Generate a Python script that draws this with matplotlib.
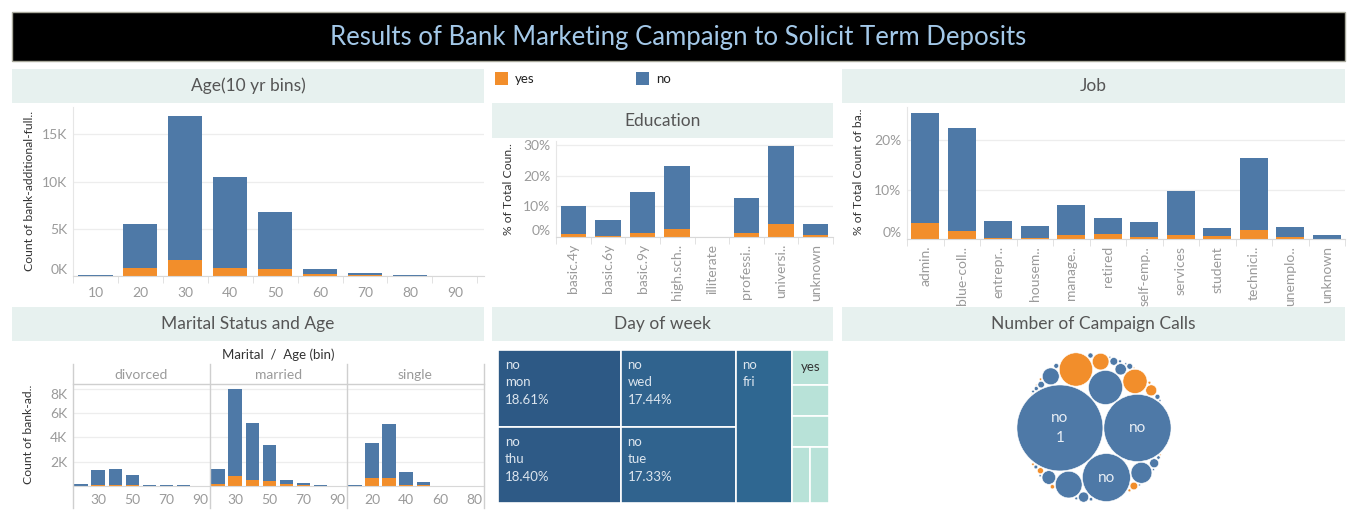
import numpy as np
import matplotlib.pyplot as plt
from matplotlib.patches import Rectangle, Circle
from matplotlib.lines import Line2D

plt.rcParams['font.family'] = ['Lato', 'DejaVu Sans']

W, H = 1357, 520
BLUE = '#4E79A7'
ORANGE = '#F28E2B'
HDR = '#E7F1EF'
TICK = '#9A9A9A'
GRID = '#EDEDED'

# ---------------- data ----------------
age_bins = [10, 20, 30, 40, 50, 60, 70, 80, 90]
age_yes = [10, 850, 1650, 850, 740, 180, 100, 20, 0]
age_no = [130, 4710, 15320, 9680, 6090, 560, 180, 50, 5]

edu_labels = ['basic.4y', 'basic.6y', 'basic.9y', 'high.sch..', 'illiterate',
              'professi..', 'universi..', 'unknown']
edu_yes = [0.9, 0.2, 1.3, 2.6, 0.01, 1.3, 4.1, 0.5]
edu_no = [9.1, 5.2, 13.3, 20.4, 0.03, 11.3, 25.5, 3.6]

job_labels = ['admin.', 'blue-coll..', 'entrepr..', 'housem..', 'manage..', 'retired',
              'self-emp..', 'services', 'student', 'technici..', 'unemplo..', 'unknown']
job_yes = [3.2, 1.6, 0.3, 0.26, 0.8, 1.0, 0.36, 0.8, 0.6, 1.8, 0.35, 0.09]
job_no = [22.3, 21.0, 3.3, 2.34, 6.2, 3.2, 3.04, 8.9, 1.6, 14.6, 2.05, 0.71]

marital = ['divorced', 'married', 'single']
mar_bins = {'divorced': [20, 30, 40, 50, 60, 70, 80],
            'married': [20, 30, 40, 50, 60, 70, 80],
            'single': [10, 20, 30, 40, 50]}
mar_yes = {'divorced': [10, 100, 100, 100, 20, 30, 20],
           'married': [190, 850, 520, 440, 190, 100, 30],
           'single': [20, 680, 680, 100, 100]}
mar_no = {'divorced': [180, 1190, 1270, 830, 90, 80, 90],
          'married': [1230, 7150, 4680, 2960, 330, 170, 70],
          'single': [80, 2880, 4440, 1080, 260]}
mar_xlim = {'divorced': (15.3, 95.5), 'married': (15.3, 95.5), 'single': (5.4, 85.6)}

days = ['mon', 'thu', 'wed', 'tue', 'fri']
day_no_pct = [18.61, 18.40, 17.44, 17.33, 16.95]
yes_days = ['thu', 'tue', 'wed', 'mon', 'fri']
day_yes_pct = [2.54, 2.31, 2.30, 2.06, 2.05]

calls_no = [15342, 9359, 4767, 2402, 1479, 904, 591, 383, 266, 213, 165, 122,
            88, 68, 54, 51, 47, 33, 29, 24, 23, 16, 16, 15, 10, 8, 8, 7, 7, 7]
calls_yes = [2300, 1211, 574, 249, 120, 75, 38, 17, 17, 12, 12, 4, 4, 3, 2]

# ---------------- helpers ----------------
fig = plt.figure(figsize=(W / 100, H / 100), dpi=100)


def px_axes(x0, y0, x1, y1):
    return fig.add_axes([x0 / W, 1 - y1 / H, (x1 - x0) / W, (y1 - y0) / H])


def fig_rect(x0, y0, x1, y1, **kw):
    fig.add_artist(Rectangle((x0 / W, 1 - y1 / H), (x1 - x0) / W, (y1 - y0) / H,
                             transform=fig.transFigure, **kw))


def fig_line(x0, y0, x1, y1, color='#CFCFCF', lw=1):
    fig.add_artist(Line2D([x0 / W, x1 / W], [1 - y0 / H, 1 - y1 / H],
                          transform=fig.transFigure, color=color, lw=lw))


def header(x0, y0, x1, y1, text):
    fig_rect(x0, y0, x1, y1, facecolor=HDR, edgecolor='none')
    fig.text((x0 + x1) / 2 / W, 1 - (y0 + y1) / 2 / H, text, ha='center', va='center',
             fontsize=12.5, color='#555555')


def ylab(x, y, text):
    fig.text(x / W, 1 - y / H, text, rotation=90, ha='center', va='center',
             fontsize=8.7, color='#333333')


def style_axes(ax, xdiv):
    for s in ['top', 'right']:
        ax.spines[s].set_visible(False)
    ax.spines['left'].set_color('#E6E6E6')
    ax.spines['bottom'].set_color('#D8D8D8')
    ax.grid(axis='y', color=GRID, lw=0.9)
    ax.set_axisbelow(True)
    ax.tick_params(axis='y', length=0, labelsize=10, labelcolor=TICK, pad=4)
    ax.tick_params(axis='x', which='major', length=0, labelsize=10, labelcolor=TICK)
    ax.set_xticks(xdiv, minor=True)
    ax.tick_params(axis='x', which='minor', length=5, color='#DDDDDD')


def bottom_label_up(ax, idx=0, va='bottom'):
    ax.get_yticklabels()[idx].set_verticalalignment(va)


# ---------------- title ----------------
fig_rect(12, 12, 1345, 61, facecolor='black', edgecolor='#A9A99C', lw=1)
fig.text(678 / W, 1 - 38 / H, 'Results of Bank Marketing Campaign to Solicit Term Deposits',
         ha='center', va='center', fontsize=18.5, color='#A3C8E8')

# ---------------- Age ----------------
header(12, 69, 484, 103, 'Age(10 yr bins)')
ax = px_axes(73, 107, 484, 276)
ax.bar(age_bins, age_yes, width=7.6, color=ORANGE)
ax.bar(age_bins, age_no, width=7.6, bottom=age_yes, color=BLUE)
ax.set_xlim(5, 96.5)
ax.set_ylim(0, 17900)
ax.set_xticks(age_bins)
ax.set_yticks([0, 5000, 10000, 15000], ['0K', '5K', '10K', '15K'])
style_axes(ax, np.arange(5, 100, 10))
ax.tick_params(axis='x', pad=8)
bottom_label_up(ax)
ylab(30, 191, 'Count of bank-additional-full..')

# ---------------- Legend ----------------
fig_rect(495, 72, 508, 85, facecolor=ORANGE, edgecolor='none')
fig.text(515 / W, 1 - 79 / H, 'yes', ha='left', va='center', fontsize=9.5, color='#222222')
fig_rect(636, 72, 649, 85, facecolor=BLUE, edgecolor='none')
fig.text(656 / W, 1 - 79 / H, 'no', ha='left', va='center', fontsize=9.5, color='#222222')

# ---------------- Education ----------------
header(492, 103, 833, 138, 'Education')
ax = px_axes(556, 141, 833, 237)
x = np.arange(len(edu_labels))
ax.bar(x, edu_yes, width=0.74, color=ORANGE)
ax.bar(x, edu_no, width=0.74, bottom=edu_yes, color=BLUE)
ax.set_xlim(-0.5, len(edu_labels) - 0.5)
ax.set_ylim(0, 31.3)
ax.set_yticks([0, 10, 20, 30], ['0%', '10%', '20%', '30%'])
ax.set_xticks(x, edu_labels, rotation=90)
style_axes(ax, np.arange(-0.5, len(edu_labels), 1))
ax.tick_params(axis='x', pad=5)
bottom_label_up(ax)
ylab(509, 189, '% of Total Coun..')

# ---------------- Job ----------------
header(842, 69, 1345, 103, 'Job')
ax = px_axes(907, 107, 1345, 239)
x = np.arange(len(job_labels))
ax.bar(x, job_yes, width=0.76, color=ORANGE)
ax.bar(x, job_no, width=0.76, bottom=job_yes, color=BLUE)
ax.set_xlim(-0.5, len(job_labels) - 0.5)
ax.set_ylim(0, 26.8)
ax.set_yticks([0, 10, 20], ['0%', '10%', '20%'])
ax.set_xticks(x, job_labels, rotation=90)
style_axes(ax, np.arange(-0.5, len(job_labels), 1))
ax.tick_params(axis='x', pad=5)
bottom_label_up(ax)
ylab(859, 172, '% of Total Count of ba..')

# ---------------- Marital ----------------
header(12, 307, 484, 341, 'Marital Status and Age')
fig.text(278 / W, 1 - 355 / H, 'Marital  /  Age (bin)', ha='center', va='center',
         fontsize=9.5, color='#333333')
edges = [73, 210, 347, 484]
for k, m in enumerate(marital):
    x0, x1 = edges[k], edges[k + 1]
    fig.text((x0 + x1) / 2 / W, 1 - 375 / H, m, ha='center', va='center',
             fontsize=10, color=TICK)
    ax = px_axes(x0, 384, x1, 486)
    ax.bar(mar_bins[m], mar_yes[m], width=7.8, color=ORANGE)
    ax.bar(mar_bins[m], mar_no[m], width=7.8, bottom=mar_yes[m], color=BLUE)
    ax.set_xlim(*mar_xlim[m])
    ax.set_ylim(0, 8380)
    for s in ['top', 'right', 'left']:
        ax.spines[s].set_visible(False)
    ax.spines['bottom'].set_color('#D8D8D8')
    ax.grid(axis='y', color=GRID, lw=0.9)
    ax.set_axisbelow(True)
    if m == 'single':
        ax.set_xticks([20, 40, 60, 80])
    else:
        ax.set_xticks([30, 50, 70, 90])
    ax.tick_params(axis='x', length=0, labelsize=10, labelcolor=TICK, pad=6)
    ax.set_yticks([2000, 4000, 6000, 8000])
    if k == 0:
        ax.set_yticklabels(['2K', '4K', '6K', '8K'])
        ax.tick_params(axis='y', length=0, labelsize=10, labelcolor=TICK, pad=4)
        ax.get_yticklabels()[-1].set_verticalalignment('top')
    else:
        ax.tick_params(axis='y', length=0, labelleft=False)
for xe in edges:
    fig_line(xe, 364, xe, 508)
fig_line(73, 384, 484, 384)
ylab(29, 434, 'Count of bank-ad..')

# ---------------- Day of week (treemap) ----------------
header(492, 307, 833, 341, 'Day of week')
ax = px_axes(498, 350, 829, 503)
ax.set_xlim(0, 1)
ax.set_ylim(1, 0)
ax.axis('off')
total = sum(day_no_pct) + sum(day_yes_pct)
no_cols = [['mon', 'thu'], ['wed', 'tue'], ['fri']]
no_colors = {'mon': '#2D5985', 'thu': '#2E5A86', 'wed': '#30638E', 'tue': '#30638E',
             'fri': '#2F6791'}
xc = 0
for col in no_cols:
    vals = [day_no_pct[days.index(d)] for d in col]
    cw = sum(vals) / total
    yc = 0
    for d, v in zip(col, vals):
        h = v / sum(vals)
        ax.add_patch(Rectangle((xc, yc), cw, h, facecolor=no_colors[d],
                               edgecolor='white', lw=1.2))
        txt = 'no\n' + d if d == 'fri' else 'no\n%s\n%.2f%%' % (d, v)
        ax.annotate(txt, (xc, yc), xytext=(7, -9), textcoords='offset pixels',
                    ha='left', va='top', fontsize=9.5, color='#DCE5EE', linespacing=1.55)
        yc += h
    xc += cw
# yes column: first three rows stacked, last two side by side
yw = 1 - xc
ysum = sum(day_yes_pct)
yc = 0
for i in range(3):
    h = day_yes_pct[i] / ysum
    ax.add_patch(Rectangle((xc, yc), yw, h, facecolor='#B8E2D8', edgecolor='white', lw=1.2))
    if i == 0:
        ax.text(xc + yw / 2, yc + h / 2, 'yes', ha='center', va='center',
                fontsize=9.5, color='#333333')
    yc += h
rest = day_yes_pct[3:]
xr = xc
for v in rest:
    w = yw * v / sum(rest)
    ax.add_patch(Rectangle((xr, yc), w, 1 - yc, facecolor='#B8E2D8', edgecolor='white', lw=1.2))
    xr += w

# ---------------- Campaign calls (packed bubbles) ----------------
header(842, 307, 1345, 341, 'Number of Campaign Calls')


def pack_siblings(R):
    # front-chain circle packing (same idea as d3.packSiblings)
    n = len(R)
    P = np.zeros((n, 2))

    def place(b, a, c):
        dx, dy = P[b] - P[a]
        d2 = dx * dx + dy * dy
        a2 = (R[a] + R[c]) ** 2
        b2 = (R[b] + R[c]) ** 2
        if a2 > b2:
            x = (d2 + b2 - a2) / (2 * d2)
            y = np.sqrt(max(0, b2 / d2 - x * x))
            P[c] = [P[b][0] - x * dx - y * dy, P[b][1] - x * dy + y * dx]
        else:
            x = (d2 + a2 - b2) / (2 * d2)
            y = np.sqrt(max(0, a2 / d2 - x * x))
            P[c] = [P[a][0] + x * dx - y * dy, P[a][1] + x * dy + y * dx]

    def intersects(p, q):
        dr = R[p] + R[q] - 1e-6
        d = P[q] - P[p]
        return dr > 0 and dr * dr > d[0] ** 2 + d[1] ** 2

    def score(p, nxt):
        q = nxt[p]
        ab = R[p] + R[q]
        pt = (P[p] * R[q] + P[q] * R[p]) / ab
        return pt[0] ** 2 + pt[1] ** 2

    P[0] = [-R[1], 0]
    P[1] = [R[0], 0]
    place(1, 0, 2)
    a, b, c = 0, 1, 2
    nxt = {a: b, b: c, c: a}
    prv = {b: a, c: b, a: c}
    i = 3
    while i < n:
        place(a, b, i)
        j, k = nxt[b], prv[a]
        sj, sk = R[b], R[a]
        retry = False
        while True:
            if sj <= sk:
                if intersects(j, i):
                    b = j
                    nxt[a] = b
                    prv[b] = a
                    retry = True
                    break
                sj += R[j]
                j = nxt[j]
            else:
                if intersects(k, i):
                    a = k
                    nxt[a] = b
                    prv[b] = a
                    retry = True
                    break
                sk += R[k]
                k = prv[k]
            if j == nxt[k]:
                break
        if retry:
            continue
        prv[i], nxt[i] = a, b
        nxt[a] = i
        prv[b] = i
        b = i
        aa = score(a, nxt)
        c = i
        while True:
            c = nxt[c]
            if c == b:
                break
            ca = score(c, nxt)
            if ca < aa:
                a, aa = c, ca
        b = nxt[a]
        i += 1
    return P


counts = np.array(calls_no + calls_yes, dtype=float)
kinds = ['no'] * len(calls_no) + ['yes'] * len(calls_yes)
ranks = list(range(1, len(calls_no) + 1)) + list(range(1, len(calls_yes) + 1))
order = np.argsort(-counts, kind='stable')
radii = 0.347 * np.sqrt(counts[order])
pos = pack_siblings(radii + 0.5)
pos[:, 1] *= -1  # screen y runs downward in the packing

ax = px_axes(842, 343, 1345, 512)
ax.axis('off')
for j, idx in enumerate(order):
    col = BLUE if kinds[idx] == 'no' else ORANGE
    ax.add_patch(Circle(pos[j], radii[j], facecolor=col, edgecolor='white', lw=0.4))
    if kinds[idx] == 'no' and ranks[idx] <= 3:
        label = 'no\n1' if ranks[idx] == 1 else 'no'
        ax.text(pos[j][0], pos[j][1], label, ha='center', va='center', fontsize=11,
                color='#E8EEF5', linespacing=1.6)
xmin = (pos[:, 0] - radii).min(); xmax = (pos[:, 0] + radii).max()
ymin = (pos[:, 1] - radii).min(); ymax = (pos[:, 1] + radii).max()
cx, cy = (xmin + xmax) / 2, (ymin + ymax) / 2
ax.set_xlim(cx - 252, cx + 251)
ax.set_ylim(cy - 84.5, cy + 84.5)

fig.savefig('out.png', dpi=100, facecolor='white')
